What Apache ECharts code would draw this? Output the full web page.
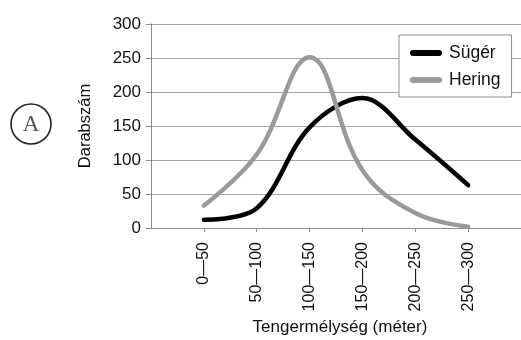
<!DOCTYPE html>
<html>
<head>
<meta charset="utf-8">
<script src="https://cdn.jsdelivr.net/npm/echarts@6/dist/echarts.min.js"></script>
<style>
html,body{margin:0;padding:0;background:#fff;}
#chart{width:521px;height:340px;}
</style>
</head>
<body>
<div id="chart"></div>
<script>
const categories = ['', '0—50', '50—100', '100—150', '150—200', '200—250', '250—300', ''];
const sugerValues = [null, 12, 29, 148, 191, 130, 63, null];
const heringValues = [null, 33, 108, 251, 85, 22, 2, null];
const yTicks = [0, 50, 100, 150, 200, 250, 300];
const seriesNames = ['Sügér', 'Hering'];
const xTitle = 'Tengermélység (méter)';
const yTitle = 'Darabszám';
const panelLetter = 'A';

const FONT = '"Liberation Sans", Arial, sans-serif';
const chart = echarts.init(document.getElementById('chart'), null, {renderer: 'canvas'});
chart.setOption({
  animation: false,
  backgroundColor: '#ffffff',
  grid: {left: 151, right: 0, top: 24, bottom: 112, containLabel: false, outerBoundsMode: 'none'},
  legend: {
    orient: 'vertical',
    left: 399, top: 35,
    padding: [9, 11, 8, 11],
    itemGap: 9,
    itemWidth: 32, itemHeight: 6,
    icon: 'path://M3,0 L29,0 A3,3 0 0 1 29,6 L3,6 A3,3 0 0 1 3,0 Z',
    backgroundColor: '#fff',
    borderColor: '#8c8c8c', borderWidth: 1, borderRadius: 0,
    textStyle: {fontFamily: FONT, fontSize: 17.5, color: '#111', lineHeight: 18, padding: [0,0,0,2]},
    data: seriesNames
  },
  xAxis: {
    type: 'category',
    boundaryGap: false,
    data: categories,
    name: xTitle,
    nameLocation: 'middle',
    nameGap: 89,
    nameTextStyle: {fontFamily: FONT, fontSize: 17, color: '#111', padding: [0,0,0,8]},
    axisLine: {lineStyle: {color: '#8c8c8c', width: 1}},
    axisTick: {show: true, length: 4, alignWithLabel: true, interval: function(i){return i>0 && i<7;}, lineStyle: {color: '#8c8c8c'}},
    axisLabel: {interval: 0, rotate: 90, margin: 14, fontFamily: FONT, fontSize: 16, color: '#111'},
    splitLine: {show: false}
  },
  yAxis: {
    type: 'value',
    min: 0, max: 300, interval: 50,
    name: yTitle,
    nameLocation: 'middle',
    nameGap: 57,
    nameRotate: 90,
    nameTextStyle: {fontFamily: FONT, fontSize: 16.5, color: '#111'},
    axisLine: {show: true, lineStyle: {color: '#8c8c8c', width: 1}},
    axisTick: {show: true, length: 5, inside: false, lineStyle: {color: '#8c8c8c'}},
    axisLabel: {margin: 10, fontFamily: FONT, fontSize: 17, color: '#111',
      formatter: function(v){ return yTicks.indexOf(v) >= 0 ? String(v) : ''; }},
    splitLine: {show: true, lineStyle: {color: '#a6a6a6', width: 1}}
  },
  graphic: [
    {type: 'circle', shape: {cx: 31, cy: 124, r: 20}, style: {fill: 'none', stroke: '#222', lineWidth: 1.6}},
    {type: 'text', x: 31, y: 125, style: {text: panelLetter, font: '23px "Liberation Serif", "DejaVu Serif", serif', fill: '#555', align: 'center', verticalAlign: 'middle'}}
  ],
  series: [
    {name: seriesNames[0], type: 'line', data: sugerValues, smooth: 0.35, showSymbol: false, symbol: 'none',
     lineStyle: {color: '#000', width: 4.5, cap: 'round', join: 'round'}, itemStyle: {color: '#000'}},
    {name: seriesNames[1], type: 'line', data: heringValues, smooth: 0.4, showSymbol: false, symbol: 'none',
     lineStyle: {color: '#9a9a9a', width: 4.5, cap: 'round', join: 'round'}, itemStyle: {color: '#9a9a9a'}}
  ]
});
</script>
</body>
</html>
